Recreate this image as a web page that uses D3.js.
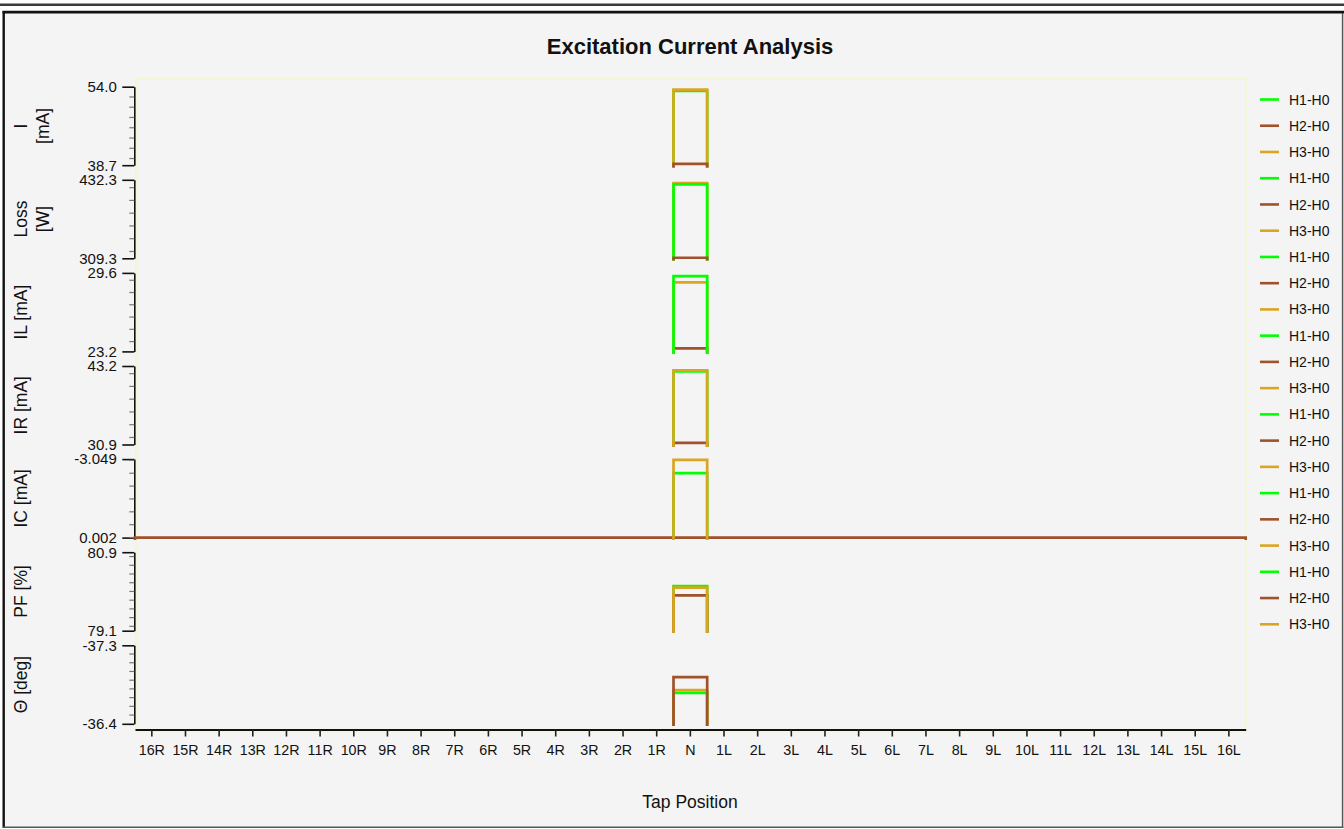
<!DOCTYPE html>
<html>
<head>
<meta charset="utf-8">
<script src="https://cdn.jsdelivr.net/npm/d3@7"></script>
<style>
  html, body { margin: 0; padding: 0; background: #ffffff; }
  svg { display: block; }
  text { font-family: "Liberation Sans", Arial, sans-serif; fill: #111; }
</style>
</head>
<body>
<svg id="chart" width="1344" height="829"></svg>
<script>
// Tap positions along the x axis
const taps = ["16R","15R","14R","13R","12R","11R","10R","9R","8R","7R","6R","5R","4R","3R","2R","1R",
              "N",
              "1L","2L","3L","4L","5L","6L","7L","8L","9L","10L","11L","12L","13L","14L","15L","16L"];

// Measured phases
const seriesNames = ["H1-H0", "H2-H0", "H3-H0"];
const seriesColors = ["#00ff00", "#a0522d", "#daa520"];

// Quantity rows, top to bottom
const rowLabels = [["I", "[mA]"], ["Loss", "[W]"], ["IL [mA]"], ["IR [mA]"], ["IC [mA]"], ["PF [%]"], ["\u0398 [deg]"]];
const axisTop    = [54.0, 432.3, 29.6, 43.2, -3.049, 80.9, -37.3];
const axisBottom = [38.7, 309.3, 23.2, 30.9, 0.002, 79.1, -36.4];
const axisDecimals = [1, 1, 1, 1, 3, 1, 1];

// Readings at the measured tap (H1-H0, H2-H0, H3-H0)
const measuredTap = "N";
const valuesI     = [53.16, 38.96, 53.42];
const valuesLoss  = [425.0, 310.2, 427.0];
const valuesIL    = [29.33, 23.44, 28.82];
const valuesIR    = [42.37, 31.16, 42.52];
const valuesIC    = [-2.504, 0.002, -3.022];
const valuesPF    = [80.12, 79.91, 80.09];
const valuesTheta = [-36.755, -36.934, -36.785];
// The H2-H0 IC reading runs across every tap
const icH2Span = ["16R", "16L"];

// Paint order of the phases in each row
const paintOrder = [[0, 2, 1], [2, 0, 1], [1, 2, 0], [0, 1, 2], [0, 1, 2], [0, 1, 2], [0, 2, 1]];

const rowValues = [valuesI, valuesLoss, valuesIL, valuesIR, valuesIC, valuesPF, valuesTheta];

// plain hyphen for negative numbers
const locale = d3.formatLocale({ decimal: ".", thousands: ",", grouping: [3], currency: ["", ""], minus: "-" });

const svg = d3.select("#chart");
const W = 1344, H = 829;

// ---- window frame ----
svg.append("rect").attr("x", 0).attr("y", 0).attr("width", W).attr("height", H).attr("fill", "#ffffff");
svg.append("rect").attr("x", 4).attr("y", 13).attr("width", 1338).attr("height", 814).attr("fill", "#f4f4f4");
svg.append("line").attr("x1", 0).attr("x2", W).attr("y1", 4.8).attr("y2", 4.8).attr("stroke", "#3a3a3a").attr("stroke-width", 2.4);
svg.append("line").attr("x1", 2.5).attr("x2", W).attr("y1", 12.2).attr("y2", 12.2).attr("stroke", "#111").attr("stroke-width", 2.8);
svg.append("line").attr("x1", 3.7).attr("x2", 3.7).attr("y1", 11).attr("y2", 828).attr("stroke", "#111").attr("stroke-width", 2.4);
svg.append("line").attr("x1", 1342.6).attr("x2", 1342.6).attr("y1", 13).attr("y2", 828).attr("stroke", "#555").attr("stroke-width", 1.5);
svg.append("line").attr("x1", 3).attr("x2", 1343.3).attr("y1", 827.2).attr("y2", 827.2).attr("stroke", "#555").attr("stroke-width", 1.5);

// ---- layout ----
const plotLeft = 135, plotRight = 1245.7, plotTop = 79, axisY = 729.5;
const rowFirstTop = 86.7, rowHeight = 78.5, rowPitch = 93.1;

// title
svg.append("text").attr("x", 690).attr("y", 53.5).attr("text-anchor", "middle")
  .style("font-size", "22px").style("font-weight", "bold").text("Excitation Current Analysis");

// plot area
svg.append("rect").attr("x", 135.8).attr("y", plotTop).attr("width", plotRight - 135.8).attr("height", 652.5)
  .attr("fill", "#f4f4f4").attr("stroke", "#f6f6c8").attr("stroke-width", 1.6);

// ---- x scale and axis ----
const x = d3.scaleBand().domain(taps).range([plotLeft, plotRight]).paddingInner(0).paddingOuter(0);

const xAxis = svg.append("g").attr("transform", `translate(0,${axisY})`)
  .call(d3.axisBottom(x).tickSize(7).tickSizeOuter(0).tickPadding(8.5));
xAxis.select(".domain").attr("stroke", "#111").attr("stroke-width", 2);
xAxis.selectAll(".tick line").attr("stroke", "#222").attr("stroke-width", 1.6);
xAxis.selectAll(".tick text").style("font-size", "14.3px").style("font-family", "Liberation Sans, Arial, sans-serif").attr("fill", "#111");

svg.append("text").attr("x", 690).attr("y", 808).attr("text-anchor", "middle")
  .style("font-size", "17.5px").attr("fill", "#222").text("Tap Position");

// ---- rows ----
rowLabels.forEach((label, i) => {
  const top = rowFirstTop + i * rowPitch;
  const bottom = top + rowHeight;
  const y = d3.scaleLinear().domain([axisBottom[i], axisTop[i]]).range([bottom, top]);

  // left axis with the two end values
  const g = svg.append("g").attr("transform", "translate(134.3,0)");
  const fmt = locale.format(`.${axisDecimals[i]}f`);
  g.call(d3.axisLeft(y).tickValues([axisBottom[i], axisTop[i]]).tickFormat(fmt)
          .tickSize(12).tickSizeOuter(0).tickPadding(5.5));
  g.select(".domain").attr("stroke", "#111").attr("stroke-width", 1.6);
  g.selectAll(".tick line").attr("stroke", "#111").attr("stroke-width", 1.6);
  g.selectAll(".tick text").style("font-size", "15px").style("font-family", "Liberation Sans, Arial, sans-serif").attr("fill", "#111");

  // minor ticks
  const lo = Math.min(axisBottom[i], axisTop[i]), hi = Math.max(axisBottom[i], axisTop[i]);
  const minor = d3.ticks(lo, hi, 8).filter(t => t > lo && t < hi);
  g.selectAll(".minor").data(minor).join("line")
    .attr("x1", -5).attr("x2", 0)
    .attr("y1", d => y(d)).attr("y2", d => y(d))
    .attr("stroke", "#777").attr("stroke-width", 1.2);

  // rotated row label
  const cy = (top + bottom) / 2;
  const lbl = svg.append("text").attr("transform", `translate(27,${cy}) rotate(-90)`)
    .attr("text-anchor", "middle").style("font-size", "17.5px").attr("fill", "#111");
  label.forEach((line, k) => {
    lbl.append("tspan").attr("x", 0).attr("y", k * 22).text(line);
  });

  // readings drawn as outline steps over their tap span
  const base = y.range()[0] + 2.3;
  paintOrder[i].forEach(s => {
    const span = (i === 4 && s === 1) ? icH2Span : [measuredTap, measuredTap];
    const x0 = x(span[0]), x1 = x(span[1]) + x.bandwidth();
    const v = rowValues[i][s];
    const path = d3.path();
    path.moveTo(x0, base);
    path.lineTo(x0, y(v));
    path.lineTo(x1, y(v));
    path.lineTo(x1, base);
    svg.append("path").attr("d", path.toString())
      .attr("fill", "none").attr("stroke", seriesColors[s]).attr("stroke-width", 2.7)
      .attr("stroke-linejoin", "miter").attr("stroke-linecap", "butt");
  });
});

// ---- legend ----
const legendItems = [];
rowLabels.forEach(() => seriesNames.forEach((n, s) => legendItems.push({ name: n, color: seriesColors[s] })));
const lg = svg.append("g");
legendItems.forEach((d, k) => {
  const ly = 99.5 + k * 26.24;
  lg.append("line").attr("x1", 1260).attr("x2", 1279).attr("y1", ly).attr("y2", ly)
    .attr("stroke", d.color).attr("stroke-width", 2.6);
  lg.append("text").attr("x", 1289).attr("y", ly).attr("dy", "0.36em")
    .style("font-size", "14px").attr("fill", "#111").text(d.name);
});
</script>
</body>
</html>
